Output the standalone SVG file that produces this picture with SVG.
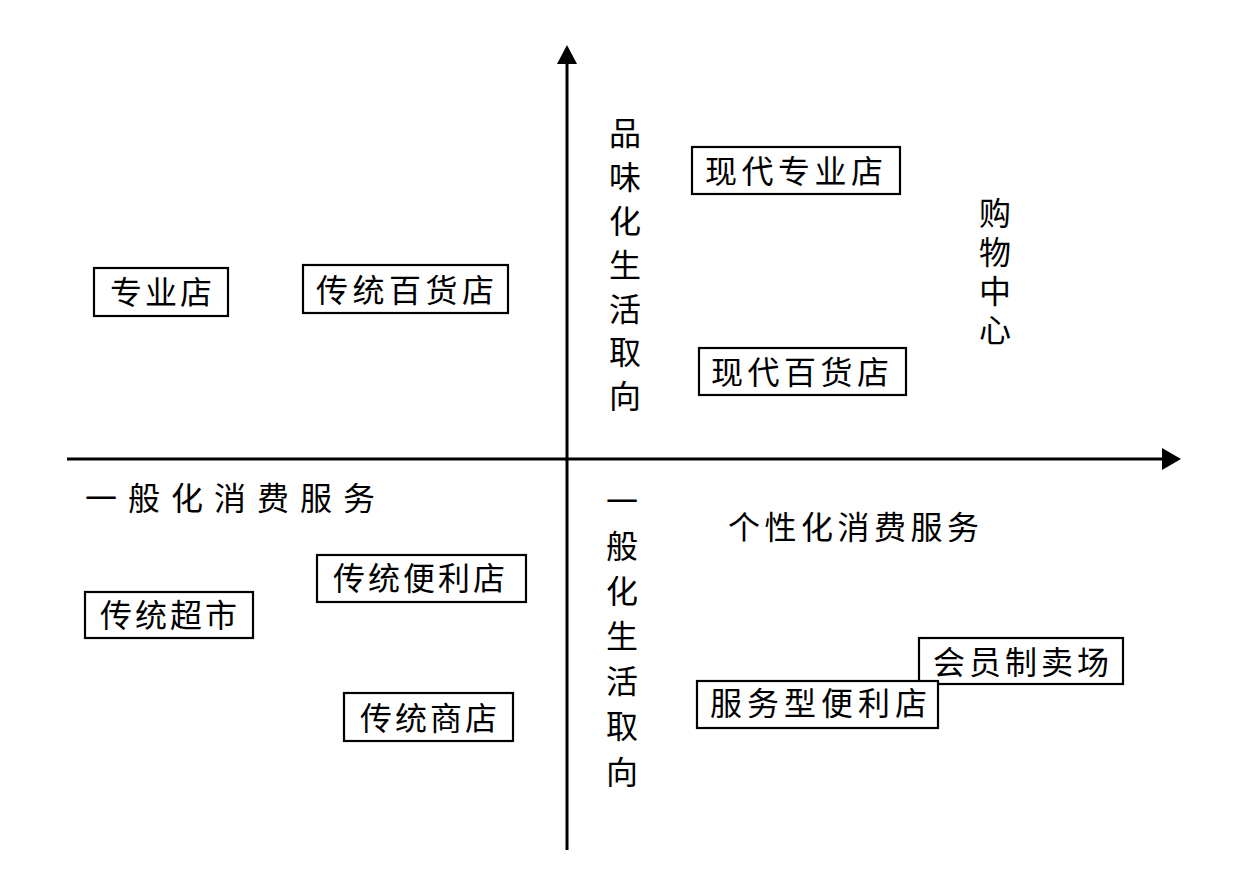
<svg xmlns="http://www.w3.org/2000/svg" width="1254" height="871" viewBox="0 0 1254 871">
<style>
.box{fill:#fff;stroke:#000;stroke-width:2.2}
.t{font-family:"Liberation Sans","Noto Sans CJK SC",sans-serif;font-size:32px;fill:#000;letter-spacing:3px}
.v{font-family:"Liberation Sans","Noto Sans CJK SC",sans-serif;font-size:32px;fill:#000;text-anchor:middle}
.ax{stroke:#000;stroke-width:3;fill:none}
</style>
<rect width="1254" height="871" fill="#fff"/>
<g id="connectors">
<line class="ax" x1="567" y1="850" x2="567" y2="62"/>
<polygon points="567,45 557,64 577,64" fill="#000"/>
<line class="ax" x1="67" y1="459" x2="1164" y2="459"/>
<polygon points="1181,459 1162,448 1162,470" fill="#000"/>
</g>
<g id="axis-labels">
<text class="v"><tspan x="625" y="145">品</tspan><tspan x="625" y="189">味</tspan><tspan x="625" y="233">化</tspan><tspan x="625" y="277">生</tspan><tspan x="625" y="321">活</tspan><tspan x="625" y="364">取</tspan><tspan x="625" y="408">向</tspan></text>
<text class="v"><tspan x="622" y="513">一</tspan><tspan x="622" y="558">般</tspan><tspan x="622" y="603">化</tspan><tspan x="622" y="648">生</tspan><tspan x="622" y="693">活</tspan><tspan x="622" y="738">取</tspan><tspan x="622" y="784">向</tspan></text>
<text class="v"><tspan x="995" y="225">购</tspan><tspan x="995" y="264">物</tspan><tspan x="995" y="303">中</tspan><tspan x="995" y="342">心</tspan></text>
<text class="t" x="85" y="510" style="letter-spacing:11px">一般化消费服务</text>
<text class="t" x="728" y="539" style="letter-spacing:4.5px">个性化消费服务</text>
</g>
<g id="n-zhuanyedian"><rect class="box" x="94" y="268" width="134" height="48"/><text class="t" x="110" y="304">专业店</text></g>
<g id="n-chuantongbaihuodian"><rect class="box" x="303" y="265" width="205" height="48"/><text class="t" x="316" y="302" style="letter-spacing:4.5px">传统百货店</text></g>
<g id="n-xiandaizhuanyedian"><rect class="box" x="692" y="147" width="208" height="47"/><text class="t" x="705" y="183" style="letter-spacing:4.5px">现代专业店</text></g>
<g id="n-xiandaibaihuodian"><rect class="box" x="699" y="348" width="207" height="47"/><text class="t" x="711" y="384" style="letter-spacing:4.5px">现代百货店</text></g>
<g id="n-chuantongbianlidian"><rect class="box" x="317" y="555" width="209" height="47"/><text class="t" x="333" y="590">传统便利店</text></g>
<g id="n-chuantongchaoshi"><rect class="box" x="85" y="592" width="168" height="46"/><text class="t" x="100" y="627">传统超市</text></g>
<g id="n-chuantongshangdian"><rect class="box" x="344" y="693" width="169" height="48"/><text class="t" x="360" y="730">传统商店</text></g>
<g id="n-huiyuanzhimaichang"><rect class="box" x="919" y="638" width="204" height="46"/><text class="t" x="933" y="674" style="letter-spacing:4px">会员制卖场</text></g>
<g id="n-fuwuxingbianlidian"><rect class="box" x="697" y="681" width="241" height="47"/><text class="t" x="710" y="715" style="letter-spacing:5px">服务型便利店</text></g>
</svg>
